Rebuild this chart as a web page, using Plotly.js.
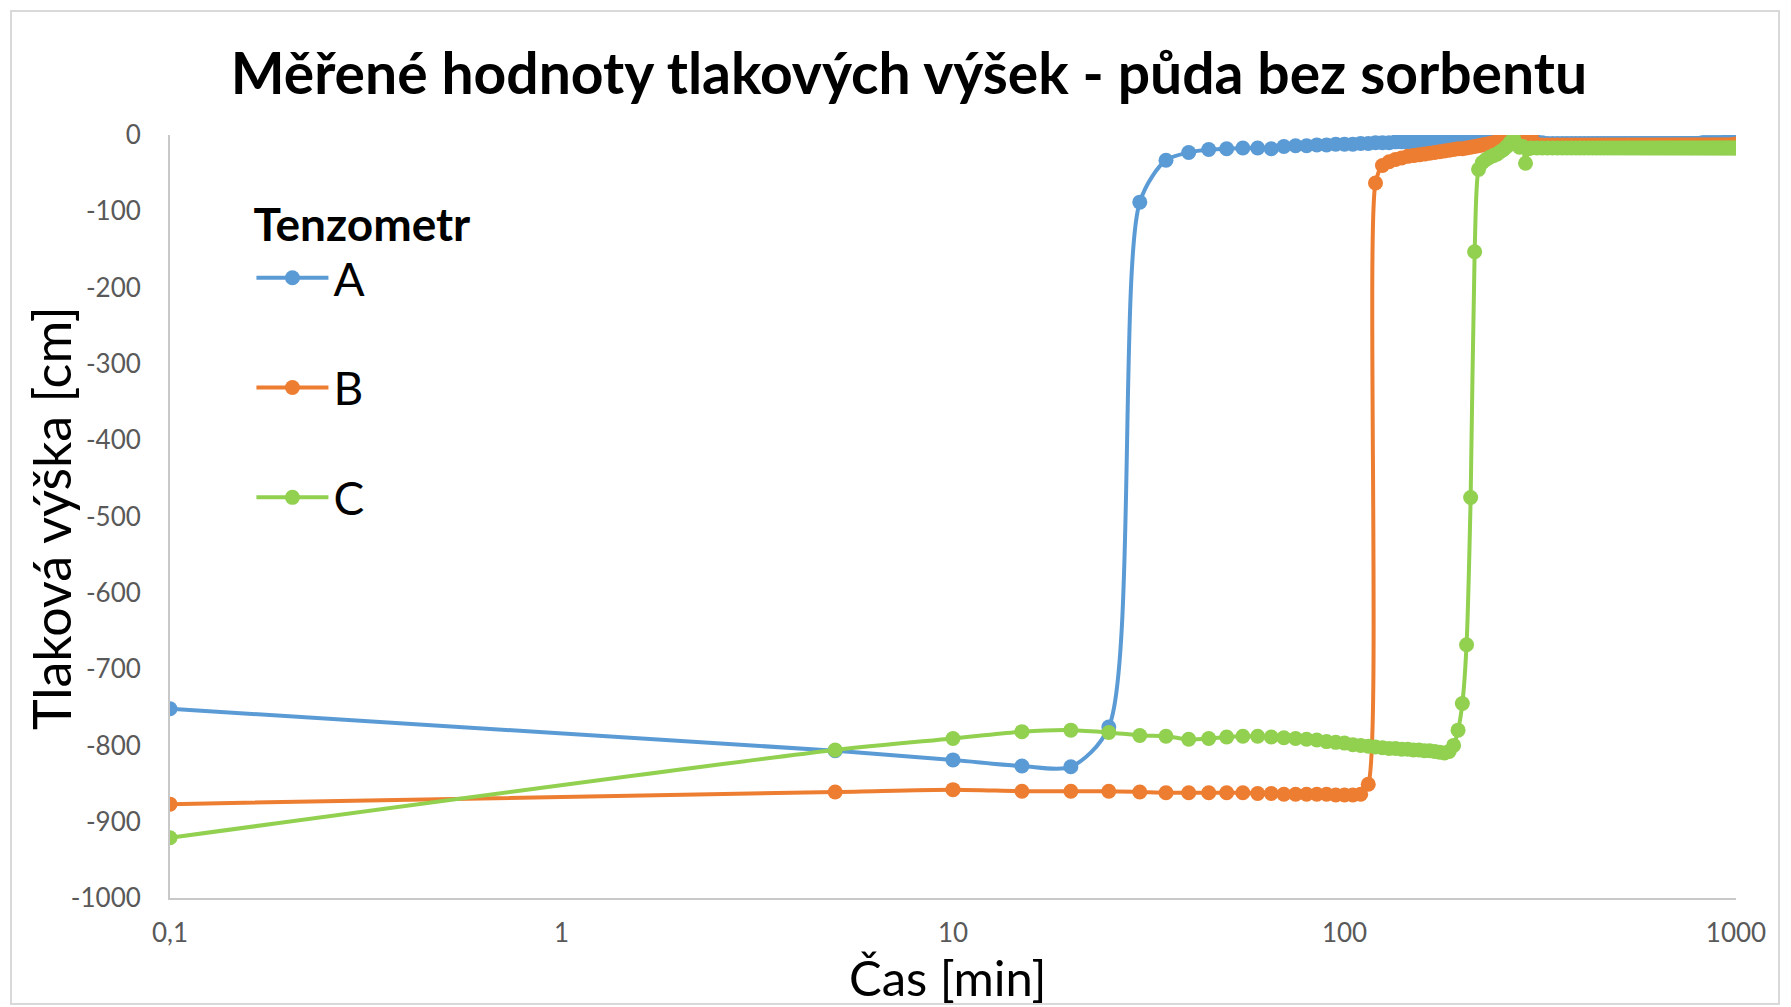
<!DOCTYPE html>
<html>
<head>
<meta charset="utf-8">
<script src="https://cdn.plot.ly/plotly-3.0.1.min.js"></script>
<style>html,body{margin:0;padding:0;background:#fff;}#chart{width:1791px;height:1007px;}</style>
</head>
<body>
<div id="chart"></div>
<script>
// time [min]
var casMin = [0.1,5,10,15,20,25,30,35,40,45,50,55,60,65,70,75,80,85,90,95,
  100,105,110,115,120,125,130,135,140,145,150,155,160,165,170,175,180,185,190,195,
  200,205,210,215,220,225,230,235,240,245,250,255,260,265,270,275,280,285,290,295,300,
  310,320,330,340,350,360,370,380,390,400,410,420,430,440,450,460,470,480,490,500,
  510,520,530,540,550,560,570,580,590,600,610,620,630,640,650,660,670,680,690,700,
  710,720,730,740,750,760,770,780,790,800,810,820,830,840,850,860,870,880,890,900,
  910,920,930,940,950,960,970,980,990,1000];

var tenzometrA = [-752,-807,-819,-827,-828,-776,-88,-33,-23,-19,-18,-17,-17,-18,-15,-14,-14,-13,-13,-12,
  -12,-12,-11,-11,-10,-10,-10,-9,-9,-9,-9,-8,-8,-8,-8,-7,-7,-7,-7,-6,
  -6,-6,-6,-6,-5,-5,-5,-5,-5,-4,-4,-4,-3,-2,-2,-4,-5,-5,-4,-2,-1,
  -9,-10,-11,-11,-11,-11,-11,-11,-11,-11,-11,-11,-11,-11,-11,-11,-11,-11,-11,-11,
  -11,-11,-11,-11,-11,-11,-11,-11,-11,-11,-11,-11,-11,-11,-11,-11,-11,-11,-11,-11,
  -11,-11,-11,-11,-11,-11,-11,-11,-11,-11,-11,-10,-10,-10,-10,-10,-10,-10,-10,-10,
  -10,-10,-10,-9,-9,-9,-9,-9,-9,-9];

var tenzometrB = [-877,-861,-858,-860,-860,-860,-861,-862,-862,-862,-862,-862,-863,-863,-864,-864,-864,-864,-864,-865,
  -865,-865,-864,-851,-63,-40,-35,-32,-30,-28,-27,-26,-25,-24,-23,-22,-21,-20,-19,-18,
  -18,-17,-16,-15,-14,-13,-12,-11,-10,-9,-8,-7,-5,-3,-2,-6,-8,-9,-6,-2,0,
  -12,-13,-13,-13,-13,-13,-13,-13,-13,-13,-13,-13,-13,-13,-13,-13,-13,-13,-13,-13,
  -13,-13,-13,-13,-13,-13,-13,-13,-13,-13,-13,-13,-13,-13,-13,-13,-13,-13,-13,-13,
  -13,-13,-13,-13,-13,-13,-13,-13,-13,-13,-13,-13,-13,-13,-13,-13,-13,-13,-13,-13,
  -13,-13,-13,-13,-13,-13,-13,-13,-12,-12];

var tenzometrC = [-921,-806,-791,-782,-780,-783,-787,-788,-792,-791,-789,-788,-788,-789,-790,-791,-792,-793,-795,-796,
  -797,-799,-800,-801,-802,-803,-804,-804,-805,-805,-806,-806,-807,-807,-808,-809,-810,-808,-800,-780,
  -745,-668,-475,-153,-45,-36,-32,-29,-27,-25,-22,-19,-15,-10,-4,-12,-16,-15,-37,-18,-17,
  -17,-17,-17,-17,-17,-17,-17,-17,-17,-17,-17,-17,-17,-17,-17,-17,-17,-17,-17,-17,
  -17,-17,-17,-17,-17,-17,-17,-17,-17,-17,-17,-17,-17,-17,-17,-17,-17,-17,-17,-17,
  -17,-17,-17,-17,-17,-17,-17,-17,-17,-17,-17,-17,-17,-17,-17,-17,-17,-17,-17,-17,
  -17,-17,-17,-17,-17,-17,-17,-17,-17,-17];

var seriesNames = ['A','B','C'];
var seriesColors = ['#5B9BD5','#ED7D31','#92D050'];

var xTickVals = [0.1,1,10,100,1000];
var xTickText = ['0,1','1','10','100','1000'];
var yTickVals = [0,-100,-200,-300,-400,-500,-600,-700,-800,-900,-1000];
var yTickText = ['0','-100','-200','-300','-400','-500','-600','-700','-800','-900','-1000'];

var chartTitle = 'Měřené hodnoty tlakových výšek - půda bez sorbentu';
var xTitle = 'Čas [min]';
var yTitle = 'Tlaková výška [cm]';
var legendTitle = 'Tenzometr';

var FONT = 'Lato, "Open Sans", sans-serif';
var ys = [tenzometrA, tenzometrB, tenzometrC];
var data = ys.map(function(y, i){
  return {
    x: casMin, y: y, type: 'scatter', mode: 'lines+markers',
    name: seriesNames[i], legendgroup: seriesNames[i],
    line: {color: seriesColors[i], width: 4, shape: 'spline', smoothing: 0.8},
    marker: {color: seriesColors[i], size: 15, symbol: 'circle'}
  };
});

var layout = {
  width: 1791, height: 1007,
  paper_bgcolor: '#ffffff', plot_bgcolor: '#ffffff',
  margin: {l: 170, r: 55, t: 135, b: 109},
  font: {family: FONT, color: '#595959'},
  title: {
    text: '<b>' + chartTitle + '</b>',
    font: {family: FONT, size: 57, color: '#000000'},
    xref: 'container', x: 0.5075, xanchor: 'center',
    yref: 'container', y: 0.926, yanchor: 'middle'
  },
  xaxis: {
    type: 'log', range: [-1, 3],
    tickvals: xTickVals, ticktext: xTickText,
    showgrid: false, zeroline: false, showline: true,
    linecolor: '#C8C8C8', linewidth: 2, ticks: '',
    ticklabelstandoff: 11,
    tickfont: {family: FONT, size: 26, color: '#595959'}
  },
  yaxis: {
    range: [-1000, 0],
    tickvals: yTickVals, ticktext: yTickText,
    showgrid: false, zeroline: false, showline: true,
    linecolor: '#C8C8C8', linewidth: 2, ticks: '',
    ticklabelstandoff: 22,
    tickfont: {family: FONT, size: 26, color: '#595959'}
  },
  annotations: [
    {text: xTitle, xref: 'paper', yref: 'paper', x: 0.4968, y: -0.103,
     xanchor: 'center', yanchor: 'middle', showarrow: false, borderpad: 0,
     font: {family: FONT, size: 49, color: '#000000'}},
    {text: yTitle, xref: 'paper', yref: 'paper', x: -0.076, y: 0.498, textangle: -90,
     xanchor: 'center', yanchor: 'middle', showarrow: false,
     font: {family: FONT, size: 52, color: '#000000'}}
  ],
  showlegend: true,
  legend: {
    x: 0.052, y: 0.939, xanchor: 'left', yanchor: 'top',
    bgcolor: 'rgba(0,0,0,0)',
    font: {family: FONT, size: 46, color: '#000000'},
    title: {text: '<b>' + legendTitle + '</b>', font: {family: FONT, size: 46, color: '#000000'}},
    tracegroupgap: 47,
    itemwidth: 72
  },
  shapes: [{
    type: 'rect', xref: 'paper', yref: 'paper',
    x0: (11-170)/1566, x1: (1779-170)/1566,
    y0: (898-1004)/763, y1: (898-11)/763,
    line: {color: '#D9D9D9', width: 2}, fillcolor: 'rgba(0,0,0,0)', layer: 'below'
  }]
};

Plotly.newPlot('chart', data, layout, {displayModeBar: false, responsive: false});
</script>
</body>
</html>
